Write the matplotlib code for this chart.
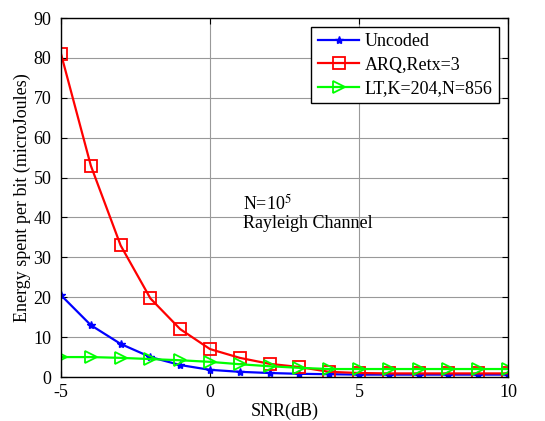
import numpy as np
import matplotlib.pyplot as plt

plt.rcParams['font.family'] = ['Liberation Serif', 'DejaVu Serif']
plt.rcParams['mathtext.fontset'] = 'stix'
plt.rcParams['axes.unicode_minus'] = False

snr = [-5, -4, -3, -2, -1, 0, 1, 2, 3, 4, 5, 6, 7, 8, 9, 10]
uncoded = [20.5, 13.0, 8.3, 5.0, 3.0, 1.8, 1.3, 1.0, 0.8, 0.7, 0.6, 0.6, 0.6, 0.6, 0.6, 0.6]
arq = [81.0, 53.0, 33.0, 19.7, 12.0, 7.0, 4.8, 3.3, 2.5, 1.3, 1.0, 0.9, 0.9, 0.9, 0.9, 0.9]
lt = [5.0, 5.0, 4.8, 4.5, 4.2, 3.8, 3.2, 2.7, 2.3, 2.0, 2.0, 2.0, 2.0, 2.0, 2.0, 2.0]

fig = plt.figure(figsize=(5.45, 4.21), dpi=100)
ax = fig.add_axes([0.112, 0.1045, 0.82, 0.8525])

ax.plot(snr, uncoded, color='blue', marker='*', markersize=6, lw=1.6, label='Uncoded')
ax.plot(snr, arq, color='red', marker='s', markersize=8, markerfacecolor='none',
        markeredgewidth=1.3, lw=1.6, label='ARQ,Retx=3')
ax.plot(snr, lt, color='#00ff00', marker='>', markersize=8, markerfacecolor='none',
        markeredgewidth=1.3, lw=1.6, label='LT,K=204,N=856')

ax.set_xlim(-5, 10)
ax.set_ylim(0, 90)
ax.set_xticks([-5, 0, 5, 10])
ax.set_yticks(np.arange(0, 91, 10))
ax.grid(True, color='0.6', lw=0.8, linestyle='-')
ax.set_axisbelow(True)
ax.tick_params(direction='in', top=True, right=True, labelsize=13, length=4)
ax.tick_params(axis='y', pad=7)
ax.tick_params(axis='x', pad=5)
for s in ax.spines.values():
    s.set_linewidth(1.0)

ax.set_xlabel('SNR(dB)', fontsize=13, labelpad=1)
ax.set_ylabel('Energy spent per bit (microJoules)', fontsize=13, labelpad=2)

ax.text(1.1, 42, r'N=10$^5$', fontsize=13)
ax.text(1.1, 37.3, 'Rayleigh Channel', fontsize=13)

leg = ax.legend(loc='upper right', fontsize=13, fancybox=False, framealpha=1,
                edgecolor='black', borderaxespad=0.5, handlelength=2.3,
                labelspacing=0.35, borderpad=0.35, handletextpad=0.3)
leg.get_frame().set_linewidth(1.0)

fig.savefig('out.png', dpi=100)
